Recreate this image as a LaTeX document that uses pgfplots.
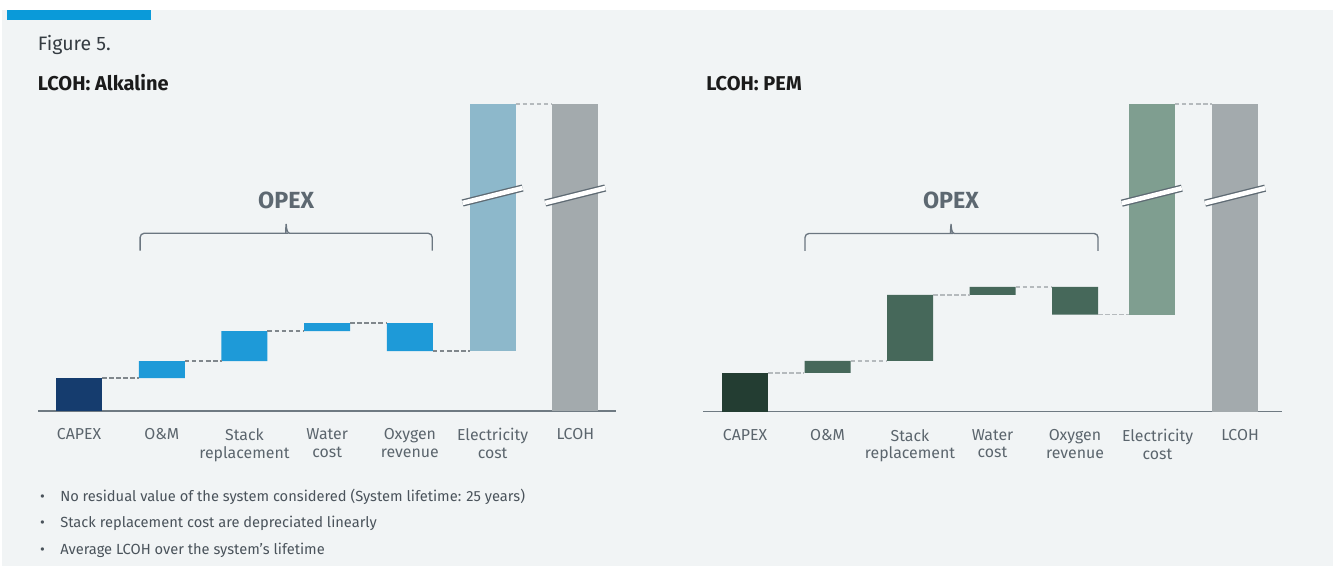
\documentclass[border=0pt]{standalone}
\usepackage{pgfplots}
\pgfplotsset{compat=1.18}
\usepackage{pgfplotstable}
\usepackage{fontspec}
\setmainfont{Fira Sans}

\definecolor{bgc}{HTML}{F1F4F5}
\definecolor{stripc}{HTML}{0A9AD9}
\definecolor{titlec}{HTML}{1B1B1B}
\definecolor{figc}{HTML}{353C42}
\definecolor{labc}{HTML}{5B656D}
\definecolor{footc}{HTML}{4A535B}
\definecolor{opexc}{HTML}{5D6871}
\definecolor{bracec}{HTML}{6B7680}
\definecolor{axisc}{HTML}{6F7A82}
\definecolor{breakc}{HTML}{5E6A73}
\definecolor{dashdark}{HTML}{80878C}
\definecolor{dashlight}{HTML}{B5BABD}
% Alkaline palette
\definecolor{aCapex}{HTML}{153C6E}
\definecolor{aOpex}{HTML}{1E9AD8}
\definecolor{aElec}{HTML}{8DB8CB}
% PEM palette
\definecolor{pCapex}{HTML}{233D32}
\definecolor{pOpex}{HTML}{46685A}
\definecolor{pElec}{HTML}{7F9E90}
\definecolor{lcohc}{HTML}{A3AAAD}

% Waterfall steps: invisible base + visible segment per colour group
\pgfplotstableread{
x    base  capex opex  elec  lcoh
0    0     33    0     0     0
1    33    0     17    0     0
2    50    0     30    0     0
3    80    0     8     0     0
4    60    0     28    0     0
5    60    0     0     247   0
6    0     0     0     0     307
}\alk
\pgfplotstableread{
x    base  capex opex  elec  lcoh
0    0     38.7  0     0     0
1    38.7  0     12    0     0
2    50.7  0     66    0     0
3    116.7 0     8     0     0
4    97    0     27.7  0     0
4.93 97    0     0     210.7 0
5.94 0     0     0     0     307.7
}\pem

\tikzset{
  brk/.style={draw=breakc, line width=1pt, double=white, double distance=3.4pt},
  brace/.style={draw=bracec, line width=1pt},
}
\pgfplotsset{
  wfgeom/.style={
    scale only axis, anchor=south west, clip=false,
    enlargelimits=false, ymin=0,
  },
  wfbars/.style={
    wfgeom, ybar stacked, bar width=34.5pt,
    axis y line=none, axis x line=bottom,
    axis line style={-}, x axis line style={-, draw=axisc, line width=1.1pt},
    every outer x axis line/.append style={-},
    xtick={0,...,6}, major tick length=0pt, ytick=\empty,
    xticklabels={{CAPEX},{O\&M},{Stack\\replacement},{Water\\cost},{Oxygen\\revenue},{Electricity\\cost},{LCOH}},
    xticklabel style={align=center, text=labc, inner sep=0pt, yshift=-13pt,
      font=\fontsize{11.9pt}{13.3pt}\selectfont},
  },
  wfover/.style={wfgeom, hide axis},
  conn/.style={no marks, line width=1pt, dash pattern=on 3.4pt off 1.9pt},
}

\begin{document}
\begin{tikzpicture}
\begin{scope}[x=0.75pt, y=-0.75pt]
  \path[use as bounding box] (0,0) rectangle (1333,566);
  \fill[white] (0,0) rectangle (1333,566);
  \fill[bgc] (2,10) rectangle (1333,566);
  \fill[stripc] (7,10.5) rectangle (151,20.5);
  \node[anchor=base west, inner sep=0pt, text=figc, font=\fontsize{14.6pt}{17pt}\selectfont] at (37.7,50.7) {Figure 5.};
  \node[anchor=base west, inner sep=0pt, text=titlec, font=\fontsize{15pt}{18pt}\selectfont\bfseries] at (37.7,90.7) {LCOH: Alkaline};
  \node[anchor=base west, inner sep=0pt, text=titlec, font=\fontsize{15pt}{18pt}\selectfont\bfseries] at (706,90.7) {LCOH: PEM};
  \foreach \yy/\tt in {501.7/{No residual value of the system considered (System lifetime: 25 years)},
                       527.3/{Stack replacement cost are depreciated linearly},
                       554/{Average LCOH over the system’s lifetime}} {
    \node[anchor=base, inner sep=0pt, text=footc, font=\fontsize{11pt}{13pt}\selectfont] at (42.5,\yy) {•};
    \node[anchor=base west, inner sep=0pt, text=footc, font=\fontsize{11pt}{13pt}\selectfont] at (60,\yy) {\tt};
  }
\end{scope}

% ---------------- Alkaline ----------------
\begin{axis}[wfbars, at={(38*0.75pt,-411*0.75pt)}, width=433.35pt, height=230.25pt,
  xmin=-0.497, xmax=6.49, ymax=307]
  \addplot[draw=none, fill=none] table[x=x, y=base] {\alk};
  \addplot[draw=none, fill=aCapex] table[x=x, y=capex] {\alk};
  \addplot[draw=none, fill=aOpex] table[x=x, y=opex] {\alk};
  \addplot[draw=none, fill=aElec] table[x=x, y=elec] {\alk};
  \addplot[draw=none, fill=lcohc] table[x=x, y=lcoh] {\alk};
\end{axis}
\begin{axis}[wfover, at={(38*0.75pt,-411*0.75pt)}, width=433.35pt, height=230.25pt,
  xmin=-0.497, xmax=6.49, ymax=307]
  \addplot[conn, dashdark]  coordinates {(0.278,33) (0.722,33)};
  \addplot[conn, dashdark]  coordinates {(1.278,50) (1.722,50)};
  \addplot[conn, dashdark]  coordinates {(2.278,80) (2.722,80)};
  \addplot[conn, dashdark]  coordinates {(3.278,88) (3.722,88)};
  \addplot[conn, dashdark]  coordinates {(4.278,60) (4.722,60)};
  \addplot[conn, dashlight] coordinates {(5.278,307) (5.722,307)};
  % axis breaks on the two tall bars
  \draw[brk] (axis cs:4.637,208) -- (axis cs:5.363,223);
  \draw[brk] (axis cs:5.637,208) -- (axis cs:6.363,223);
  % OPEX brace
  \draw[brace] (axis cs:0.738,160.3) [rounded corners=3pt] -- (axis cs:0.738,177.7) -- (axis cs:2.46,177.7)
     [sharp corners] .. controls (axis cs:2.49,177.7) and (axis cs:2.50,181) .. (axis cs:2.504,187)
     .. controls (axis cs:2.508,181) and (axis cs:2.52,177.7) .. (axis cs:2.548,177.7)
     [rounded corners=3pt] -- (axis cs:4.27,177.7) -- (axis cs:4.27,160.3);
  \node[text=opexc, font=\fontsize{17.5pt}{20pt}\selectfont\bfseries] at (axis cs:2.504,211) {OPEX};
\end{axis}

% ---------------- PEM ----------------
\begin{axis}[wfbars, at={(703*0.75pt,-411.7*0.75pt)}, width=433.9pt, height=230.8pt,
  xmin=-0.509, xmax=6.503, ymax=307.7]
  \addplot[draw=none, fill=none] table[x=x, y=base] {\pem};
  \addplot[draw=none, fill=pCapex] table[x=x, y=capex] {\pem};
  \addplot[draw=none, fill=pOpex] table[x=x, y=opex] {\pem};
  \addplot[draw=none, fill=pElec] table[x=x, y=elec] {\pem};
  \addplot[draw=none, fill=lcohc] table[x=x, y=lcoh] {\pem};
\end{axis}
\begin{axis}[wfover, at={(703*0.75pt,-411.7*0.75pt)}, width=433.9pt, height=230.8pt,
  xmin=-0.509, xmax=6.503, ymax=307.7]
  \addplot[conn, dashlight] coordinates {(0.279,38.7) (0.721,38.7)};
  \addplot[conn, dashlight] coordinates {(1.279,50.7) (1.721,50.7)};
  \addplot[conn, dashlight] coordinates {(2.279,116.7) (2.721,116.7)};
  \addplot[conn, dashlight] coordinates {(3.279,124.7) (3.721,124.7)};
  \addplot[conn, dashlight] coordinates {(4.279,97) (4.651,97)};
  \addplot[conn, dashlight] coordinates {(5.209,307.7) (5.661,307.7)};
  \draw[brk] (axis cs:4.566,208.5) -- (axis cs:5.294,223.5);
  \draw[brk] (axis cs:5.576,208.5) -- (axis cs:6.304,223.5);
  \draw[brace] (axis cs:0.727,160.7) [rounded corners=3pt] -- (axis cs:0.727,178.2) -- (axis cs:2.453,178.2)
     [sharp corners] .. controls (axis cs:2.483,178.2) and (axis cs:2.493,181.5) .. (axis cs:2.497,187.7)
     .. controls (axis cs:2.501,181.5) and (axis cs:2.511,178.2) .. (axis cs:2.541,178.2)
     [rounded corners=3pt] -- (axis cs:4.279,178.2) -- (axis cs:4.279,160.7);
  \node[text=opexc, font=\fontsize{17.5pt}{20pt}\selectfont\bfseries] at (axis cs:2.497,211.7) {OPEX};
\end{axis}
\end{tikzpicture}
\end{document}
